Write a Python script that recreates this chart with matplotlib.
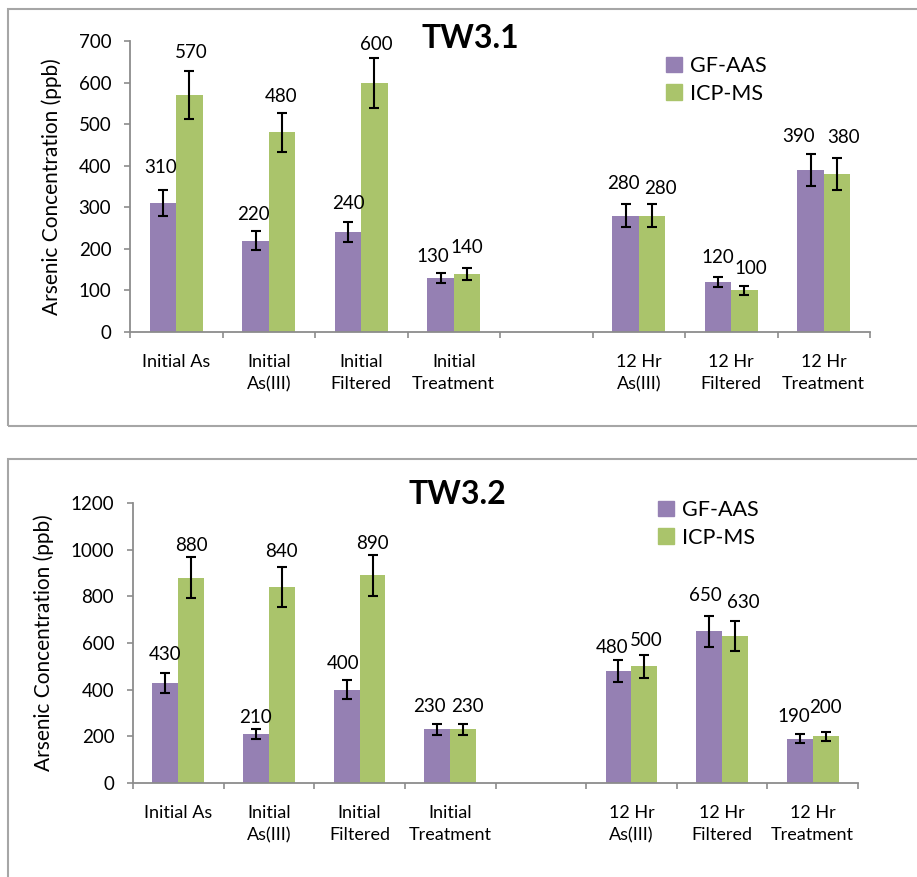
import numpy as np
import matplotlib
matplotlib.use('Agg')
import matplotlib.pyplot as plt
from matplotlib.patches import Rectangle, Patch

plt.rcParams['font.family'] = ['Lato', 'DejaVu Sans']

# categories (empty slot between the initial and 12 Hr groups)
categories = ['Initial As', 'Initial\nAs(III)', 'Initial\nFiltered', 'Initial\nTreatment',
              '', '12 Hr\nAs(III)', '12 Hr\nFiltered', '12 Hr\nTreatment']
series_names = ['GF-AAS', 'ICP-MS']

# TW3.1
tw31_gf = [310, 220, 240, 130, np.nan, 280, 120, 390]
tw31_icp = [570, 480, 600, 140, np.nan, 280, 100, 380]
tw31_gf_err = [31, 22, 24, 13, np.nan, 28, 12, 39]
tw31_icp_err = [57, 48, 60, 14, np.nan, 28, 10, 38]

# TW3.2
tw32_gf = [430, 210, 400, 230, np.nan, 480, 650, 190]
tw32_icp = [880, 840, 890, 230, np.nan, 500, 630, 200]
tw32_gf_err = [43, 21, 40, 23, np.nan, 48, 65, 19]
tw32_icp_err = [88, 84, 89, 23, np.nan, 50, 63, 20]

# hand placed value labels (pixel shift from bar centre, gap above error bar)
tw31_lab = {'gf_dx': [-2, -2, 0, -8, 0, -2, 0, -12], 'icp_dx': [2, -1, 2, 0, 0, 8, 6, 7],
            'gf_gap': [17, 11, 13, 11, 0, 15, 14, 12], 'icp_gap': [13, 11, 8, 15, 0, 10, 12, 15]}
tw32_lab = {'gf_dx': [0, 0, -4, -8, 0, -6, -4, -6], 'icp_dx': [0, 0, 0, 4, 0, 2, 8, 0],
            'gf_gap': [13, 6, 11, 12, 0, 7, 15, 12], 'icp_gap': [6, 10, 6, 12, 0, 9, 13, 19]}

PURPLE = '#9580B3'
GREEN = '#AAC46B'
AXGRAY = '#8c8c8c'
W, H = 917, 877
PT = 0.72  # points per pixel at 100 dpi


def draw_panel(ax, title, gf, icp, gf_err, icp_err, lab, ymax, ystep, title_xy, leg_xy):
    x = np.arange(len(categories))
    w = 0.286
    series = [(gf, gf_err, -w / 2, PURPLE, lab['gf_dx'], lab['gf_gap']),
              (icp, icp_err, w / 2, GREEN, lab['icp_dx'], lab['icp_gap'])]
    for vals, errs, off, col, dxs, gaps in series:
        vals = np.array(vals, dtype=float)
        errs = np.array(errs, dtype=float)
        ax.bar(x + off, vals, width=w, color=col, edgecolor='none', zorder=2)
        ax.errorbar(x + off, vals, yerr=errs, fmt='none', ecolor='black',
                    elinewidth=1.5, capsize=3.3, capthick=1.5, zorder=3)
        for xi, v, e, dx, g in zip(x + off, vals, errs, dxs, gaps):
            if np.isnan(v):
                continue
            ax.annotate(f'{v:.0f}', (xi, v + e), xytext=(dx * PT, g * PT),
                        textcoords='offset points', ha='center', va='baseline', fontsize=13.5)

    ax.set_xlim(-0.5, len(categories) - 0.5)
    ax.set_ylim(0, ymax)
    ax.set_yticks(np.arange(0, ymax + 1, ystep))
    ax.set_xticks(np.arange(-0.5, len(categories)))
    ax.set_xticklabels([])
    ax.set_xticks(x, minor=True)
    ax.set_xticklabels(categories, minor=True, fontsize=13, linespacing=1.45)
    ax.tick_params(axis='x', which='major', length=4.5, width=1.2, color=AXGRAY, direction='out')
    ax.tick_params(axis='x', which='minor', length=0, pad=16)
    ax.tick_params(axis='y', length=4.5, width=1.2, color=AXGRAY, labelsize=13.5, pad=9)
    for s in ['top', 'right']:
        ax.spines[s].set_visible(False)
    for s in ['left', 'bottom']:
        ax.spines[s].set_color(AXGRAY)
        ax.spines[s].set_linewidth(1.3)
    ax.set_ylabel('Arsenic Concentration (ppb)', fontsize=15, labelpad=12)

    fig.text(title_xy[0] / W, 1 - title_xy[1] / H, title, ha='center', va='center',
             fontsize=23, fontweight='bold')
    handles = [Patch(color=PURPLE), Patch(color=GREEN)]
    ax.legend(handles, series_names, loc='upper left', frameon=False,
              bbox_to_anchor=(leg_xy[0] / W, 1 - leg_xy[1] / H), bbox_transform=fig.transFigure,
              fontsize=15.5, handlelength=0.75, handleheight=0.75, handletextpad=0.35,
              labelspacing=0.35, borderaxespad=0, borderpad=0)


fig = plt.figure(figsize=(W / 100, H / 100), dpi=100)

# panel frames
fig.patches.append(Rectangle((8 / W, 1 - 426 / H), 1.2, (426 - 9) / H, transform=fig.transFigure,
                             fill=False, edgecolor='#a6a6a6', linewidth=1.5))
fig.patches.append(Rectangle((8 / W, -0.1), 1.2, 0.1 + 1 - 459 / H, transform=fig.transFigure,
                             fill=False, edgecolor='#a6a6a6', linewidth=1.5))

ax1 = fig.add_axes([130 / W, 1 - 332 / H, (870 - 130) / W, (332 - 41) / H])
draw_panel(ax1, 'TW3.1', tw31_gf, tw31_icp, tw31_gf_err, tw31_icp_err, tw31_lab, 700, 100,
           (470, 38), (666, 56))

ax2 = fig.add_axes([133 / W, 1 - 783 / H, (858 - 133) / W, (783 - 503) / H])
draw_panel(ax2, 'TW3.2', tw32_gf, tw32_icp, tw32_gf_err, tw32_icp_err, tw32_lab, 1200, 200,
           (457, 494), (658, 500))

fig.savefig('out.png', dpi=100)
